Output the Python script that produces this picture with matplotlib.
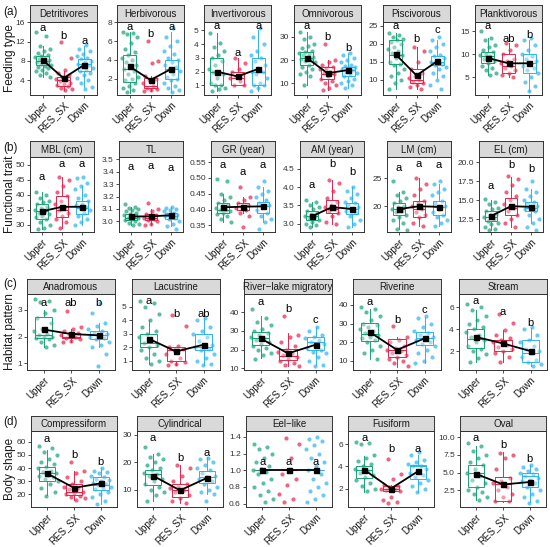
import matplotlib
matplotlib.use("Agg")
import matplotlib.pyplot as plt
import numpy as np

plt.rcParams['font.family'] = ['Liberation Sans', 'DejaVu Sans']

# ---------------- data ----------------
groups = ["Upper", "RES_SX", "Down"]
group_colors = ["#16A378", "#E6244C", "#2CB4EE"]

rows = [
    ["Detritivores", "Herbivorous", "Invertivorous", "Omnivorous", "Piscivorous", "Planktivorous"],
    ["MBL (cm)", "TL", "GR (year)", "AM (year)", "LM (cm)", "EL (cm)"],
    ["Anadromous", "Lacustrine", "River\u2212lake migratory", "Riverine", "Stream"],
    ["Compressiform", "Cylindrical", "Eel\u2212like", "Fusiform", "Oval"],
]
row_labels = ["Feeding type", "Functional trait", "Habitat pattern", "Body shape"]
row_tags = ["(a)", "(b)", "(c)", "(d)"]

y_lims = {
    "Detritivores": (0.9, 16.1), "Herbivorous": (0.25, 8.05), "Invertivorous": (0.3, 5.6),
    "Omnivorous": (4.9, 36.4), "Piscivorous": (5.75, 26.1), "Planktivorous": (1.1, 17.0),
    "MBL (cm)": (27.6, 52.6), "TL": (2.914, 3.52), "GR (year)": (0.329, 0.566),
    "AM (year)": (2.77, 4.82), "LM (cm)": (15.4, 28.8), "EL (cm)": (10.8, 20.66),
    "Anadromous": (0.75, 3.6), "Lacustrine": (0.33, 5.95), "River\u2212lake migratory": (9.1, 49.8),
    "Riverine": (5.0, 45.9), "Stream": (0.28, 7.2),
    "Compressiform": (10.5, 68.2), "Cylindrical": (3.65, 31.3), "Eel\u2212like": (0.56, 1.47),
    "Fusiform": (0.33, 7.2), "Oval": (0.1, 10.9),
}
y_ticks = {
    "Detritivores": [4, 8, 12, 16], "Herbivorous": [2, 4, 6, 8], "Invertivorous": [1, 2, 3, 4, 5],
    "Omnivorous": [10, 20, 30], "Piscivorous": [10, 15, 20, 25], "Planktivorous": [5, 10, 15],
    "MBL (cm)": [30, 35, 40, 45, 50], "TL": [3.0, 3.1, 3.2, 3.3, 3.4, 3.5],
    "GR (year)": [0.35, 0.40, 0.45, 0.50, 0.55], "AM (year)": [3.0, 3.5, 4.0, 4.5],
    "LM (cm)": [20, 25], "EL (cm)": [12.5, 15.0, 17.5, 20.0],
    "Anadromous": [1, 2, 3], "Lacustrine": [1, 2, 3, 4, 5], "River\u2212lake migratory": [10, 20, 30, 40],
    "Riverine": [10, 20, 30, 40], "Stream": [2, 4, 6],
    "Compressiform": [20, 30, 40, 50, 60], "Cylindrical": [10, 20, 30],
    "Eel\u2212like": [0.6, 0.8, 1.0, 1.2, 1.4], "Fusiform": [2, 4, 6], "Oval": [2.5, 5.0, 7.5, 10.0],
}

# box statistics per group: [whisker low, Q1, median, Q3, whisker high]
box_stats = {
    "Detritivores": [[4.7, 7.2, 8.0, 9.0, 11.0], [2.0, 2.8, 4.0, 4.6, 6.0], [2.5, 6.0, 7.3, 8.5, 11.0]],
    "Herbivorous": [[0.5, 1.6, 3.0, 4.5, 7.0], [0.7, 1.0, 1.2, 2.1, 2.3], [0.6, 2.0, 3.0, 4.0, 7.0]],
    "Invertivorous": [[0.6, 1.0, 2.0, 3.0, 4.8], [1.0, 1.0, 1.5, 2.0, 3.0], [0.6, 1.0, 2.0, 3.0, 5.0]],
    "Omnivorous": [[9, 18, 21, 23.5, 32], [7, 12, 14, 17, 20], [8, 13, 15.5, 17, 23]],
    "Piscivorous": [[7.3, 14.5, 17, 21, 23], [7.5, 9, 10, 13, 19], [10.5, 14, 15, 16.5, 21]],
    "Planktivorous": [[5.5, 8, 9.5, 10.5, 13.5], [5, 6, 7.5, 10, 12.5], [2, 6, 8, 10, 13]],
    "MBL (cm)": [[28.5, 32, 34.5, 37, 41], [29, 32.5, 35, 39.5, 46], [30, 33.5, 35.5, 38, 43]],
    "TL": [[2.97, 3.01, 3.03, 3.06, 3.12], [2.97, 3.01, 3.03, 3.06, 3.10], [2.96, 3.02, 3.04, 3.07, 3.12]],
    "GR (year)": [[0.36, 0.39, 0.40, 0.42, 0.45], [0.39, 0.40, 0.41, 0.42, 0.44], [0.36, 0.39, 0.41, 0.425, 0.47]],
    "AM (year)": [[2.9, 3.1, 3.2, 3.35, 3.6], [3.0, 3.3, 3.4, 3.65, 4.2], [2.9, 3.25, 3.4, 3.55, 4.0]],
    "LM (cm)": [[16, 18.5, 19.5, 20.5, 22.5], [16.5, 18, 19.5, 21, 25], [16.5, 18.5, 19.8, 21, 24]],
    "EL (cm)": [[11, 12.3, 12.8, 13.5, 15], [11.5, 13, 14, 15.3, 18], [12, 13.5, 14, 14.8, 16.5]],
    "Anadromous": [[1.6, 1.95, 2.05, 2.75, 3.0], [1.8, 1.95, 2.0, 2.15, 2.3], [1.6, 1.9, 2.05, 2.2, 2.5]],
    "Lacustrine": [[0.8, 2.0, 2.3, 3.0, 4.0], [0.7, 1.0, 1.8, 2.0, 2.0], [0.7, 1.8, 2.0, 3.0, 4.2]],
    "River\u2212lake migratory": [[15.4, 22.5, 26, 29.6, 38], [11, 14.5, 16.5, 20.5, 29], [12, 19.8, 24, 27, 32]],
    "Riverine": [[11, 20.5, 24.6, 30.4, 38], [6.4, 12, 16, 21.5, 23], [8.5, 18.6, 22, 25.6, 33.7]],
    "Stream": [[1.0, 2.3, 3.1, 4.0, 5.75], [1.0, 2.0, 3.0, 3.05, 3.95], [0.6, 1.0, 1.8, 3.05, 4.1]],
    "Compressiform": [[19.5, 30.5, 36.2, 40.7, 54], [16, 19.5, 22, 28, 37.5], [13, 23.5, 27.5, 33, 40]],
    "Cylindrical": [[5.9, 11.8, 15.5, 17.2, 22.9], [5, 7.2, 10, 12, 19], [8.4, 12.4, 14.5, 16.6, 21.7]],
    "Eel\u2212like": [[1.0, 1.0, 1.0, 1.0, 1.0], [1.0, 1.0, 1.0, 1.0, 1.0], [1.0, 1.0, 1.0, 1.0, 1.0]],
    "Fusiform": [[1.7, 2.95, 3.7, 4.05, 4.9], [1.7, 1.8, 2.0, 2.2, 2.35], [1.7, 2.9, 4.0, 4.15, 5.05]],
    "Oval": [[1.1, 3.0, 5.0, 6.1, 8.8], [0.85, 0.9, 3.3, 4.3, 7.9], [0.75, 3.0, 4.45, 5.0, 6.1]],
}

means = {
    "Detritivores": [8.2, 4.4, 7.2], "Herbivorous": [3.3, 1.85, 3.05], "Invertivorous": [2.0, 1.65, 2.2],
    "Omnivorous": [21, 14.3, 15.7], "Piscivorous": [17.1, 11.2, 15.2], "Planktivorous": [9.2, 8.0, 8.0],
    "MBL (cm)": [34.5, 36, 36], "TL": [3.04, 3.04, 3.05], "GR (year)": [0.407, 0.409, 0.41],
    "AM (year)": [3.2, 3.45, 3.4], "LM (cm)": [19.5, 20.0, 19.9], "EL (cm)": [12.9, 14.2, 14.1],
    "Anadromous": [2.27, 2.1, 2.05], "Lacustrine": [2.65, 1.7, 2.2], "River\u2212lake migratory": [26, 18, 22.6],
    "Riverine": [25.5, 15.8, 22], "Stream": [3.3, 2.7, 2.0],
    "Compressiform": [36, 25, 28.5], "Cylindrical": [15, 9.7, 14.2], "Eel\u2212like": [1.0, 1.0, 1.0],
    "Fusiform": [3.7, 2.0, 3.55], "Oval": [4.8, 3.3, 3.65],
}

letters = {
    "Detritivores": ["a", "b", "a"], "Herbivorous": ["a", "b", "a"], "Invertivorous": ["a", "a", "a"],
    "Omnivorous": ["a", "b", "b"], "Piscivorous": ["a", "b", "c"], "Planktivorous": ["a", "ab", "b"],
    "MBL (cm)": ["a", "a", "a"], "TL": ["a", "a", "a"], "GR (year)": ["a", "a", "a"],
    "AM (year)": ["a", "b", "b"], "LM (cm)": ["a", "a", "a"], "EL (cm)": ["a", "b", "b"],
    "Anadromous": ["a", "ab", "b"], "Lacustrine": ["a", "b", "ab"], "River\u2212lake migratory": ["a", "b", "c"],
    "Riverine": ["a", "b", "c"], "Stream": ["a", "a", "b"],
    "Compressiform": ["a", "b", "b"], "Cylindrical": ["a", "b", "a"], "Eel\u2212like": ["a", "a", "a"],
    "Fusiform": ["a", "b", "a"], "Oval": ["a", "b", "b"],
}
letter_y = {
    "Detritivores": [14.9, 13.1, 12.2], "Herbivorous": [7.5, 6.8, 7.5], "Invertivorous": [5.3, 3.35, 5.3],
    "Omnivorous": [34.6, 30, 25.2], "Piscivorous": [25.0, 21.3, 23.9], "Planktivorous": [16.1, 13.4, 14.2],
    "MBL (cm)": [46.1, 50.3, 50.3], "TL": [3.44, 3.45, 3.43], "GR (year)": [0.54, 0.52, 0.54],
    "AM (year)": [4.06, 4.64, 4.41], "LM (cm)": [26.9, 27.6, 27.3], "EL (cm)": [16.8, 19.6, 19.1],
    "Anadromous": [3.28, 3.28, 3.28], "Lacustrine": [5.4, 4.5, 4.5], "River\u2212lake migratory": [45.7, 41.6, 35.9],
    "Riverine": [41.8, 31.8, 37.3], "Stream": [6.6, 5.55, 4.6],
    "Compressiform": [62.5, 50, 45], "Cylindrical": [28.6, 21.4, 23.2], "Eel\u2212like": [1.1, 1.1, 1.1],
    "Fusiform": [6.55, 5.55, 5.55], "Oval": [9.9, 8.9, 6.9],
}

points = {
    "Detritivores": [
        [14.0, 13.2, 11.0, 10.5, 10.0, 9.6, 9.2, 9.0, 8.8, 8.5, 8.3, 8.1, 8.0, 7.8, 7.6, 7.4, 7.2, 7.0, 6.8, 6.5, 6.2, 5.8, 5.4, 5.0, 4.7],
        [12.0, 8.6, 6.1, 5.5, 5.0, 4.6, 4.3, 4.0, 3.8, 3.5, 3.2, 3.0, 2.7, 2.4, 2.1, 2.0],
        [11.3, 10.5, 10.0, 9.5, 9.0, 8.6, 8.3, 8.0, 7.7, 7.4, 7.1, 6.8, 6.5, 6.2, 6.0, 5.5, 5.0, 4.5, 4.0, 3.3, 2.5, 2.2]],
    "Herbivorous": [
        [7.0, 6.9, 6.8, 6.5, 5.8, 5.2, 4.8, 4.5, 4.2, 4.0, 3.8, 3.5, 3.2, 3.0, 2.8, 2.5, 2.2, 2.0, 1.8, 1.5, 1.2, 1.0, 0.8, 0.6],
        [6.0, 3.9, 3.7, 2.3, 2.0, 1.8, 1.5, 1.2, 1.0, 0.9, 0.8, 0.7],
        [7.4, 6.5, 6.0, 5.5, 5.0, 4.6, 4.2, 4.0, 3.8, 3.5, 3.2, 3.0, 2.8, 2.5, 2.2, 2.0, 1.8, 1.5, 1.2, 1.0, 0.8, 0.6]],
    "Invertivorous": [
        [4.8, 4.1, 3.8, 3.5, 3.2, 3.0, 2.8, 2.5, 2.2, 2.0, 2.0, 1.8, 1.5, 1.2, 1.0, 1.0, 0.8, 0.7, 0.6],
        [3.0, 2.6, 2.2, 2.0, 1.8, 1.6, 1.5, 1.3, 1.0, 1.0],
        [5.2, 4.5, 4.0, 3.5, 3.2, 3.0, 2.8, 2.5, 2.2, 2.0, 2.0, 1.8, 1.5, 1.2, 1.0, 1.0, 0.8, 0.6]],
    "Omnivorous": [
        [32, 30, 29, 27, 26, 25, 24, 23.5, 23, 22.5, 22, 21.5, 21, 20.5, 20, 19.5, 19, 18, 17, 16, 15, 14, 13, 9],
        [27, 20, 19, 18, 17, 16.5, 16, 15, 14.5, 14, 13, 12, 11, 10, 9, 8, 7],
        [23, 22, 21, 20, 19, 18, 17.5, 17, 16.5, 16, 15.5, 15, 14.5, 14, 13, 12, 11, 10, 9, 8]],
    "Piscivorous": [
        [23, 22.5, 22, 21.5, 21, 20.5, 20, 19, 18.5, 18, 17.5, 17, 16, 15, 14.5, 14, 13, 12, 11, 10, 9, 7.3],
        [19, 18, 15, 13, 12, 11, 10.5, 10, 9.5, 9, 8.5, 8, 7.5],
        [22, 21, 20, 19, 18, 17, 16.5, 16, 15.5, 15, 14.5, 14, 13.5, 13, 12, 11, 10, 8.5, 7.5]],
    "Planktivorous": [
        [15, 13.5, 13, 12, 11.5, 11, 10.5, 10, 9.8, 9.5, 9, 8.5, 8, 7.5, 7, 6.5, 6, 5.5],
        [12.5, 12, 11, 10, 9, 8.5, 8, 7.5, 7, 6.5, 6, 5.5, 5],
        [13.5, 13, 12, 11, 10, 9.5, 9, 8.5, 8, 7.5, 7, 6.5, 6, 5, 4, 3, 2]],
    "MBL (cm)": [
        [41, 40, 39, 38, 37.5, 37, 36, 35.5, 35, 34.5, 34, 33.5, 33, 32.5, 32, 31, 30, 29, 28.5],
        [46, 45, 43, 41, 39.5, 38, 37, 36, 35, 34, 33, 32, 31, 29],
        [46, 45.5, 44, 43, 42, 40, 39, 38, 37, 36.5, 36, 35.5, 35, 34, 33, 32, 31, 30]],
    "TL": [
        [3.14, 3.12, 3.11, 3.1, 3.09, 3.08, 3.07, 3.06, 3.05, 3.04, 3.03, 3.03, 3.02, 3.01, 3.0, 2.99, 2.98, 2.97],
        [3.15, 3.1, 3.08, 3.06, 3.05, 3.04, 3.03, 3.02, 3.01, 3.0, 2.98, 2.97],
        [3.12, 3.11, 3.1, 3.09, 3.08, 3.07, 3.06, 3.05, 3.04, 3.04, 3.03, 3.02, 3.0, 2.98, 2.96, 2.94]],
    "GR (year)": [
        [0.495, 0.49, 0.45, 0.44, 0.43, 0.42, 0.415, 0.41, 0.405, 0.40, 0.40, 0.395, 0.39, 0.385, 0.38, 0.37, 0.36],
        [0.47, 0.44, 0.43, 0.42, 0.415, 0.41, 0.405, 0.40, 0.39, 0.38, 0.345],
        [0.49, 0.47, 0.46, 0.45, 0.44, 0.43, 0.42, 0.415, 0.41, 0.40, 0.39, 0.38, 0.37, 0.36, 0.34]],
    "AM (year)": [
        [3.65, 3.6, 3.5, 3.45, 3.4, 3.35, 3.3, 3.25, 3.2, 3.2, 3.15, 3.1, 3.05, 3.0, 2.95, 2.9],
        [4.2, 4.1, 3.9, 3.7, 3.6, 3.5, 3.45, 3.4, 3.35, 3.3, 3.2, 3.05, 3.0],
        [4.0, 3.9, 3.8, 3.7, 3.6, 3.55, 3.5, 3.45, 3.4, 3.35, 3.3, 3.2, 3.1, 3.0, 2.9]],
    "LM (cm)": [
        [24.5, 22.5, 22, 21.5, 21, 20.5, 20, 19.8, 19.5, 19.2, 19, 18.5, 18, 17.5, 17, 16, 15.8],
        [25, 24, 23, 22, 21, 20.5, 20, 19.5, 19, 18.5, 18, 17, 16.5],
        [24.5, 24, 23, 22.5, 22, 21, 20.5, 20, 19.5, 19, 18.5, 18, 17.5, 17, 16.5]],
    "EL (cm)": [
        [15.2, 14.8, 14.5, 14, 13.8, 13.5, 13.2, 13, 12.8, 12.5, 12.2, 12, 11.8, 11.5, 11.2, 11],
        [18.2, 17.8, 17, 16, 15.5, 15, 14.5, 14, 13.5, 13, 12.5, 12, 11.5],
        [17.5, 16.5, 16, 15.5, 15, 14.8, 14.5, 14.2, 14, 13.8, 13.5, 13, 12.5, 12, 11.5, 11]],
    "Anadromous": [
        [3.4, 3.35, 3.3, 3.0, 2.9, 2.7, 2.5, 2.3, 2.2, 2.1, 2.05, 2.0, 2.0, 1.95, 1.9, 1.8, 1.7, 1.6],
        [2.95, 2.35, 2.3, 2.2, 2.15, 2.1, 2.05, 2.0, 1.95, 1.9, 1.85, 1.8],
        [3.25, 2.9, 2.5, 2.4, 2.3, 2.2, 2.15, 2.1, 2.05, 2.0, 1.95, 1.9, 1.8, 1.7, 1.6, 1.35, 0.9]],
    "Lacustrine": [
        [5.4, 5.3, 5.0, 4.5, 4.0, 3.5, 3.2, 3.0, 2.8, 2.5, 2.3, 2.2, 2.0, 1.8, 1.5, 1.2, 1.0, 0.8],
        [4.4, 3.6, 2.1, 2.0, 1.9, 1.8, 1.5, 1.2, 1.0, 0.9, 0.8, 0.7],
        [4.2, 4.0, 3.5, 3.2, 3.0, 2.8, 2.5, 2.2, 2.0, 2.0, 1.9, 1.8, 1.5, 1.2, 1.0, 0.8, 0.7]],
    "River\u2212lake migratory": [
        [42, 37, 35, 33, 31, 30, 29, 28, 27, 26, 25, 24, 23, 22, 21, 20, 18, 17, 15],
        [38, 28, 27, 24, 22, 20, 19, 18, 17, 16, 15, 14, 13, 12, 11],
        [32, 30, 28, 27, 26, 25, 24, 23, 22, 21, 20, 19, 18, 16, 14, 12, 11]],
    "Riverine": [
        [39, 38, 36, 34, 32, 30, 29, 28, 27, 26, 25, 24, 23, 22, 21, 20, 18, 16, 14, 11],
        [28.5, 23, 21, 20, 18, 17, 16, 15, 14, 13, 12, 11, 10, 9, 7],
        [34, 33, 30, 28, 26, 25, 24, 23, 22, 21, 20, 19, 18, 16, 14, 12, 10, 9]],
    "Stream": [
        [6.3, 6.0, 5.7, 5.2, 4.8, 4.5, 4.2, 4.0, 3.7, 3.5, 3.3, 3.0, 2.8, 2.5, 2.2, 2.0, 1.7, 1.4, 1.0],
        [5.4, 4.6, 3.9, 3.5, 3.2, 3.0, 2.8, 2.6, 2.4, 2.2, 2.0, 1.8, 1.5, 1.0],
        [4.2, 4.0, 3.5, 3.0, 2.8, 2.5, 2.2, 2.0, 1.8, 1.5, 1.2, 1.0, 0.8, 0.6]],
    "Compressiform": [
        [57, 55, 52, 50, 47, 45, 43, 41, 40, 38, 37, 36, 35, 34, 33, 32, 30, 28, 25, 22, 19],
        [45, 38, 36, 33, 30, 28, 26, 25, 24, 22, 21, 20, 19, 18, 17, 16],
        [40, 38, 37, 36, 34, 33, 32, 31, 30, 29, 28, 27, 26, 25, 24, 22, 20, 18, 15, 13]],
    "Cylindrical": [
        [25.5, 23, 22, 21, 20, 19, 18, 17, 16, 15.5, 15, 14, 13, 12, 11, 10, 9, 8, 6],
        [19, 18, 15, 13, 12, 11, 10.5, 10, 9, 8, 7, 6, 5],
        [21.5, 21, 20, 19, 18, 17, 16, 15, 14.5, 14, 13, 12, 11, 10, 9, 8.5, 6]],
    "Eel\u2212like": [
        [1.31, 1.28, 1.25, 1.2, 1.15, 1.1, 1.05, 1.02, 1.0, 0.98, 0.95, 0.9, 0.85, 0.8, 0.75, 0.7, 0.65, 0.62],
        [1.39, 1.32, 1.15, 0.95, 0.9, 0.82, 0.72, 0.66, 0.62],
        [1.4, 1.38, 1.35, 1.3, 1.25, 1.2, 1.15, 1.1, 1.05, 1.0, 0.95, 0.9, 0.85, 0.8, 0.75, 0.7, 0.65, 0.62]],
    "Fusiform": [
        [6.2, 6.1, 6.0, 5.0, 4.8, 4.5, 4.2, 4.0, 3.8, 3.6, 3.4, 3.2, 3.0, 2.8, 2.5, 2.2, 2.0, 1.8],
        [4.7, 3.3, 2.9, 2.3, 2.2, 2.1, 2.0, 2.0, 1.9, 1.8, 1.2, 1.0, 0.8, 0.7],
        [5.3, 5.0, 4.6, 4.4, 4.2, 4.0, 4.0, 3.8, 3.6, 3.4, 3.2, 3.0, 2.8, 2.5, 2.2, 2.0, 1.7]],
    "Oval": [
        [9.2, 8.8, 8.0, 7.5, 7.0, 6.5, 6.0, 5.5, 5.0, 4.5, 4.0, 3.5, 3.0, 2.5, 2.2, 2.0, 1.5, 1.1],
        [7.8, 7.5, 7.0, 5.5, 4.2, 3.8, 3.5, 3.0, 2.5, 2.0, 1.5, 1.0, 0.9],
        [6.0, 5.8, 5.5, 5.2, 5.0, 4.8, 4.5, 4.2, 4.0, 3.8, 3.5, 3.0, 2.5, 2.0, 1.5, 1.0, 0.7]],
}

# ---------------- layout (pixels) ----------------
W, H = 550, 547
row_vert = [(5, 22, 95), (141, 157, 232), (279, 294, 370), (416, 431, 507)]
row_lefts = [[30, 117, 204, 294, 383, 475], [30, 119, 211, 300, 387, 479],
             [27, 132, 244, 353, 459], [31, 137, 246, 348, 460]]
row_width = [67, 64, 88, 86]
row_tag_y = [12, 148, 284, 422]
edge = "#333333"

fig = plt.figure(figsize=(W / 100, H / 100), dpi=100)


def px_axes(l, t, w, h):
    return fig.add_axes([l / W, 1 - (t + h) / H, w / W, h / H])


def fmt_ticks(ticks):
    for d in range(4):
        if all(abs(round(t, d) - t) < 1e-9 for t in ticks):
            break
    return [f"{t:.{d}f}" for t in ticks]


xs = np.arange(1, 4)
for r, titles in enumerate(rows):
    st, sb, pb = row_vert[r]
    for j, title in enumerate(titles):
        l = row_lefts[r][j]
        w = row_width[r]
        ax = px_axes(l, sb, w, pb - sb)
        sax = px_axes(l, st, w, sb - st)

        # strip
        sax.set_facecolor("#D9D9D9")
        sax.set_xticks([])
        sax.set_yticks([])
        for s in sax.spines.values():
            s.set_color(edge)
            s.set_linewidth(0.7)
        sax.text(0.5, 0.45, title, ha="center", va="center", fontsize=7, color="#1a1a1a",
                 transform=sax.transAxes)

        # jittered points
        for k in range(3):
            vals = np.asarray(points[title][k], dtype=float)
            n = len(vals)
            offs = ((np.arange(n) * 0.6180339887 + 0.23 * k + 0.11) % 1.0 - 0.5) * 0.8
            ax.scatter(xs[k] + offs, vals, s=9, color=group_colors[k], alpha=0.7,
                       linewidths=0, zorder=2)

        # boxes
        stats = []
        for k in range(3):
            lo, q1, med, q3, hi = box_stats[title][k]
            stats.append(dict(whislo=lo, q1=q1, med=med, q3=q3, whishi=hi, fliers=[]))
        bp = ax.bxp(stats, positions=xs, widths=0.62, patch_artist=True,
                    showcaps=False, showfliers=False, manage_ticks=False, zorder=3)
        for k in range(3):
            c = group_colors[k]
            bp["boxes"][k].set_facecolor((1, 1, 1, 0.35))
            bp["boxes"][k].set_edgecolor(c)
            bp["boxes"][k].set_linewidth(0.7)
            bp["medians"][k].set_color(c)
            bp["medians"][k].set_linewidth(0.8)
            for wl in bp["whiskers"][2 * k:2 * k + 2]:
                wl.set_color(c)
                wl.set_linewidth(0.7)

        # means
        ax.plot(xs, means[title], color="black", lw=1.3, marker="s", ms=3.6, zorder=5)

        # letters
        for k in range(3):
            ax.text(xs[k], letter_y[title][k], letters[title][k], ha="center", va="center",
                    fontsize=8, color="black", zorder=6)

        ax.set_xlim(0.4, 3.6)
        ax.set_ylim(*y_lims[title])
        ax.set_xticks(xs)
        ax.set_xticklabels(groups, rotation=45, ha="right", rotation_mode="anchor",
                           fontsize=7, color="#1a1a1a")
        ax.set_yticks(y_ticks[title])
        ax.set_yticklabels(fmt_ticks(y_ticks[title]), fontsize=6, color="#333333")
        ax.tick_params(axis="both", length=2.5, width=0.6, color=edge, pad=1.2)
        for s in ax.spines.values():
            s.set_color(edge)
            s.set_linewidth(0.7)
        ax.set_facecolor("white")

    fig.text(10 / W, 1 - ((sb + pb) / 2) / H, row_labels[r], rotation=90, ha="center",
             va="center", fontsize=8.5, color="#1a1a1a")
    fig.text(3 / W, 1 - row_tag_y[r] / H, row_tags[r], ha="left", va="center",
             fontsize=8.5, color="#1a1a1a")

fig.savefig("out.png", dpi=100)
